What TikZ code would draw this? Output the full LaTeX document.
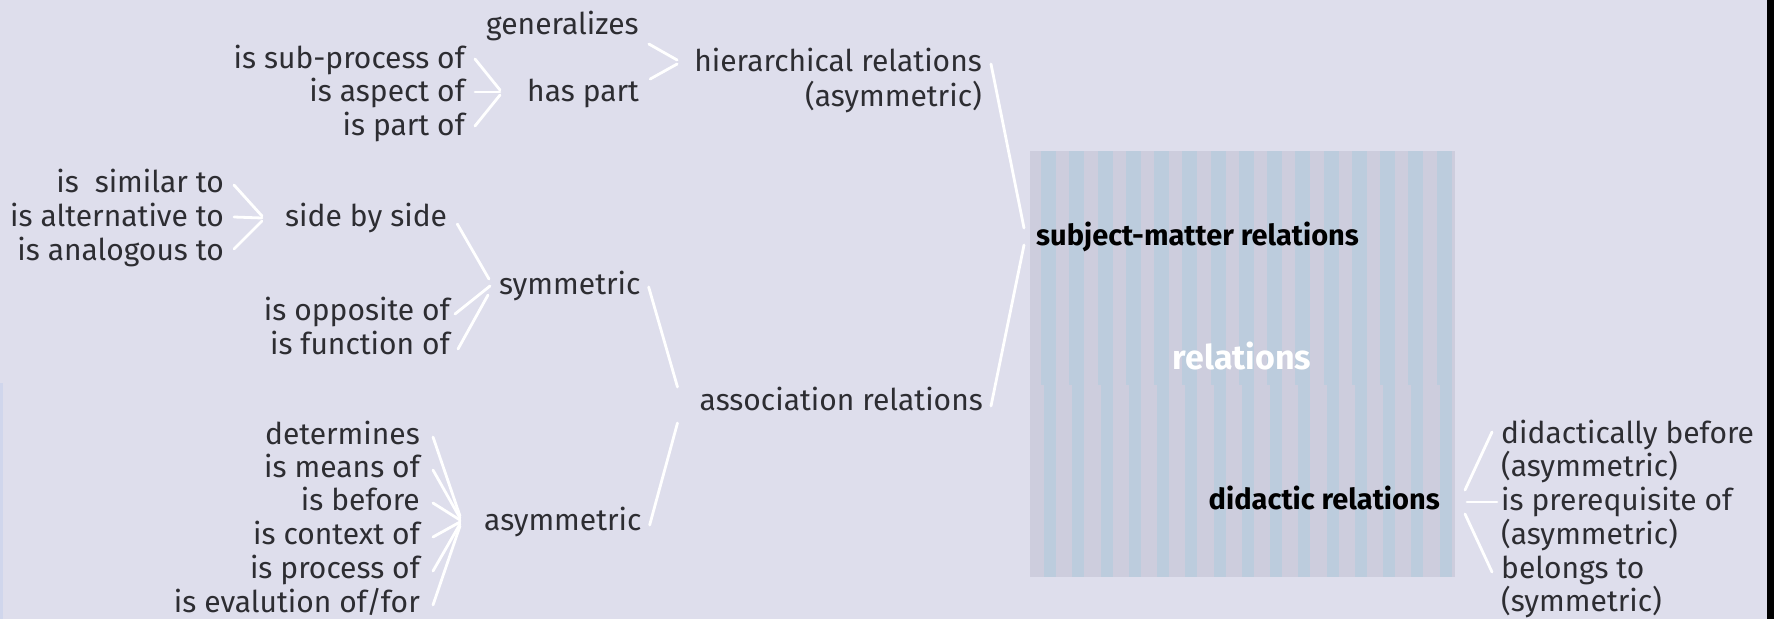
\documentclass[tikz,border=0pt]{standalone}
\usepackage{fontspec}
\setmainfont{Fira Sans}
\usetikzlibrary{calc}
\definecolor{bgcol}{RGB}{222,222,236}
\definecolor{edgecol}{RGB}{208,214,236}
\definecolor{stripeA}{RGB}{205,205,221}
\definecolor{stripeB}{RGB}{188,204,221}
\definecolor{txtcol}{RGB}{45,45,50}

\begin{document}
\begin{tikzpicture}[x=1pt,y=-1pt,
  % fixed box height and depth, so the east/west anchors sit at mid x-height
  lbl/.style={inner sep=0pt, text height=22pt, text depth=3pt,
              font=\fontsize{30}{34}\selectfont, text=txtcol},
  lblR/.style={lbl, anchor=east},
  lblL/.style={lbl, anchor=west},
  boldlbl/.style={lbl, font=\fontsize{29}{34}\selectfont\bfseries, text=black},
  link/.style={draw=white, line width=2.8pt, line cap=round}]

% canvas
\fill[bgcol] (0,0) rectangle (1774,619);
\fill[edgecol] (0,383) rectangle (3,619);
\fill[black] (1767,0) rectangle (1774,619);

% striped block
\fill[stripeA] (1030,151) rectangle (1455,577);
\foreach \i in {0,...,14}{
  \fill[stripeB] ({1041+28.25*\i},151) rectangle ++(15,234);
  \fill[stripeB] ({1044+28.25*\i},385) rectangle ++(12,192);
}

\begin{scope}[yshift=-2pt]
% hierarchical branch
\node[lblL] (gen) at (486,23) {generalizes};
\node[lblL] (haspart) at (527,90) {has part};
\node[lblR] (subproc) at (465,57) {is sub-process of};
\node[lblR] (aspect) at (465,90) {is aspect of};
\node[lblR] (partof) at (465,124) {is part of};
\node[lblR] (hier) at (982,60) {hierarchical relations};
\node[lblR] (hierasym) at (982,95) {(asymmetric)};

% symmetric branch
\node[lblR] (similar) at (224,181) {is\ \ similar to};
\node[lblR] (altern) at (224,215) {is alternative to};
\node[lblR] (analog) at (224,249) {is analogous to};
\node[lblL] (side) at (285,215) {side by side};
\node[lblL] (sym) at (499,283) {symmetric};
\node[lblR] (opposite) at (450,309) {is opposite of};
\node[lblR] (function) at (450,343) {is function of};

% association
\node[lblR] (assoc) at (983,399) {association relations};

% asymmetric branch
\node[lblR] (det) at (420,433) {determines};
\node[lblR] (means) at (420,466) {is means of};
\node[lblR] (before) at (420,499) {is before};
\node[lblR] (context) at (420,533) {is context of};
\node[lblR] (process) at (420,567) {is process of};
\node[lblR] (evalu) at (420,601) {is evalution of/for};
\node[lblL] (asym) at (484,519) {asymmetric};

% block labels
\node[boldlbl, anchor=west] (subj) at (1036,234) {subject-matter relations};
\node[lbl, font=\fontsize{34}{38}\selectfont\bfseries, text=white] (rel) at (1242,358) {relations};
\node[boldlbl, anchor=east] (didac) at (1440,498) {didactic relations};

% didactic list
\node[lblL] (d1) at (1501,432) {didactically before};
\node[lblL] (d1b) at (1501,465) {(asymmetric)};
\node[lblL] (d2) at (1501,499) {is prerequisite of};
\node[lblL] (d2b) at (1501,533) {(asymmetric)};
\node[lblL] (d3) at (1501,567) {belongs to};
\node[lblL] (d3b) at (1501,600) {(symmetric)};
\end{scope}

% connectors
\draw[link] ($(subproc.east)+(10,0)$) -- ($(haspart.west)+(-27,-2)$);
\draw[link] ($(aspect.east)+(10,0)$) -- ($(haspart.west)+(-27,0)$);
\draw[link] ($(partof.east)+(10,0)$) -- ($(haspart.west)+(-27,3)$);

\draw[link] ($(gen.east)+(10,19)$) -- ($(hier.west)+(-17,-2)$);
\draw[link] ($(haspart.east)+(11,-13)$) -- ($(hier.west)+(-17,2)$);

\draw[link] ($(hier.east)+(9,2)$) -- ($(subj.west)+(-12,-8)$);
\draw[link] ($(assoc.east)+(8,5)$) -- ($(subj.west)+(-12,9)$);

\draw[link] ($(sym.east)+(8,2)$) -- ($(assoc.west)+(-22,-14)$);
\draw[link] ($(asym.east)+(8,4)$) -- ($(assoc.west)+(-22,22)$);

\draw[link] ($(side.east)+(10,7)$) -- ($(sym.west)+(-10,-6)$);
\draw[link] ($(opposite.east)+(5,3)$) -- ($(sym.west)+(-9,1)$);
\draw[link] ($(function.east)+(8,4)$) -- ($(sym.west)+(-11,10)$);

\draw[link] ($(similar.east)+(10,2)$) -- ($(side.west)+(-23,-1)$);
\draw[link] ($(altern.east)+(10,0)$) -- ($(side.west)+(-23,1)$);
\draw[link] ($(analog.east)+(10,-2)$) -- ($(side.west)+(-23,4)$);

\draw[link] ($(det.east)+(13,2)$) -- ($(asym.west)+(-24,-5)$);
\draw[link] ($(means.east)+(13,2)$) -- ($(asym.west)+(-24,-3)$);
\draw[link] ($(before.east)+(13,2)$) -- ($(asym.west)+(-24,-1)$);
\draw[link] ($(context.east)+(13,2)$) -- ($(asym.west)+(-24,1)$);
\draw[link] ($(process.east)+(13,2)$) -- ($(asym.west)+(-24,3)$);
\draw[link] ($(evalu.east)+(13,2)$) -- ($(asym.west)+(-24,5)$);

\draw[link] ($(didac.east)+(25,-10)$) -- ($(d1.west)+(-9,-2)$);
\draw[link] ($(didac.east)+(27,2)$) -- ($(d2.west)+(-4,1)$);
\draw[link] ($(didac.east)+(25,14)$) -- ($(d3.west)+(-9,3)$);
\end{tikzpicture}
\end{document}
